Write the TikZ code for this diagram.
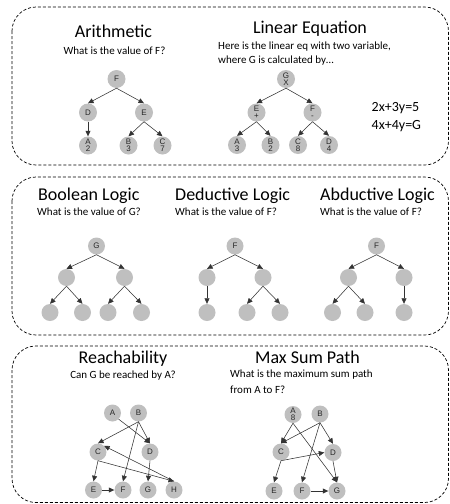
\documentclass[tikz,border=0pt]{standalone}
\usepackage{fontspec}
\setmainfont{Carlito}
\newfontfamily\arialfont{Liberation Sans}
\usetikzlibrary{arrows.meta}

\begin{document}
\begin{tikzpicture}[
        x=1pt, y=-1pt,
        panel/.style={draw, dash pattern=on 3pt off 2pt, line width=0.7pt, rounded corners=24pt},
        title/.style={font=\fontsize{18}{20}\selectfont, inner sep=0pt},
        question/.style={font=\fontsize{11}{14}\selectfont, inner sep=0pt, align=left},
        vertex/.style={circle, fill=black!25, inner sep=0pt, minimum size=18pt, text=black!85, align=center, font=\arialfont\fontsize{8}{7.3}\selectfont},
        small/.style={vertex, minimum size=17pt},
        arrow/.style={-{Triangle[length=5.5pt,width=5pt]}, draw=black!80, line width=0.55pt}
      ]

    \useasboundingbox (0,0) rectangle (450,504);

    % panels
    \draw[panel] (12,7) rectangle (448.5,165);
    \draw[panel] (12,177) rectangle (448.5,335);
    \draw[panel] (12,346) rectangle (448.5,502.5);

    % Arithmetic
    \node (arithtitle) [title, anchor=base] at (113.5,37.5) {Arithmetic};
    \node (arithq) [question, anchor=base] at (114.5,54.5) {What is the value of F?};
    \node (arithF) [vertex] at (116.5,79) {F};
    \node (arithD) [vertex] at (88,112.5) {D};
    \node (arithE) [vertex] at (144,112.5) {E};
    \node (arithA) [vertex] at (88,145.5) {A\\2};
    \node (arithB) [vertex] at (128.5,145.5) {B\\3};
    \node (arithC) [vertex] at (162.5,145.5) {C\\7};

    \draw[arrow] (arithF.south) -- (arithD.north);
    \draw[arrow] (arithF.south) -- (arithE.north);
    \draw[arrow] (arithD.south) -- (arithA.north);
    \draw[arrow] (arithE.south) -- (arithB.north);
    \draw[arrow] (arithE.south) -- (arithC.north);

    % Linear Equation
    \node (lineqtitle) [title, anchor=base] at (310,33.5) {Linear Equation};
    \node (lineqq) [question, anchor=base west] at (218,63.3) {Here is the linear eq with two variable,\\where G is calculated by\dots};
    \node (lineqG) [vertex] at (286,79) {G\\X};
    \node (lineqE) [vertex] at (256.5,112.5) {E\\+};
    \node (lineqF) [vertex] at (312.5,112.5) {F\\-};
    \node (lineqA) [vertex] at (237,145) {A\\3};
    \node (lineqB) [vertex] at (270.5,145) {B\\2};
    \node (lineqC) [vertex] at (298,145) {C\\8};
    \node (lineqD) [vertex] at (329,145) {D\\4};
    \node (lineqeqs) [font=\fontsize{14}{18.3}\selectfont, inner sep=0pt, align=left, anchor=base west] at (371.5,129.3) {2x+3y=5\\4x+4y=G};

    \draw[arrow] (lineqG.south) -- (lineqE.north);
    \draw[arrow] (lineqG.south) -- (lineqF.north);
    \draw[arrow] (lineqE.south) -- (lineqA.north);
    \draw[arrow] (lineqE.south) -- (lineqB.north);
    \draw[arrow] (lineqF.south) -- (lineqC.north);
    \draw[arrow] (lineqF.south) -- (lineqD.north);

    % Boolean Logic
    \node (booltitle) [title, anchor=base west] at (38,200.5) {Boolean Logic};
    \node (boolq) [question, anchor=base west] at (37,215.5) {What is the value of G?};
    \node (boolG) [small] at (96.5,246) {G};
    \node (boolL) [small] at (66.5,277.5) {};
    \node (boolR) [small] at (124.5,277.5) {};
    \node (boolLL) [small] at (50,312.5) {};
    \node (boolLR) [small] at (82.5,312.5) {};
    \node (boolRL) [small] at (108,312.5) {};
    \node (boolRR) [small] at (141.5,312.5) {};

    \draw[arrow] (boolG.south) -- (boolL.north);
    \draw[arrow] (boolG.south) -- (boolR.north);
    \draw[arrow] (boolL.south) -- (boolLL.north);
    \draw[arrow] (boolL.south) -- (boolLR.north);
    \draw[arrow] (boolR.south) -- (boolRL.north);
    \draw[arrow] (boolR.south) -- (boolRR.north);

    % Deductive Logic
    \node (dedtitle) [title, anchor=base west] at (175,200.5) {Deductive Logic};
    \node (dedq) [question, anchor=base west] at (175,215.5) {What is the value of F?};
    \node (dedF) [small] at (235,246) {F};
    \node (dedL) [small] at (207,277.5) {};
    \node (dedR) [small] at (263,277.5) {};
    \node (dedLL) [small] at (207,312.5) {};
    \node (dedRL) [small] at (247,312.5) {};
    \node (dedRR) [small] at (280,312.5) {};

    \draw[arrow] (dedF.south) -- (dedL.north);
    \draw[arrow] (dedF.south) -- (dedR.north);
    \draw[arrow] (dedL.south) -- (dedLL.north);
    \draw[arrow] (dedR.south) -- (dedRL.north);
    \draw[arrow] (dedR.south) -- (dedRR.north);

    % Abductive Logic
    \node (abdtitle) [title, anchor=base west] at (320,200) {Abductive Logic};
    \node (abdq) [question, anchor=base west] at (320,215.5) {What is the value of F?};
    \node (abdF) [small] at (376.5,246) {F};
    \node (abdL) [small] at (348.5,277.5) {};
    \node (abdR) [small] at (404,277.5) {};
    \node (abdLL) [small] at (332.5,312.5) {};
    \node (abdLR) [small] at (365,312.5) {};
    \node (abdRR) [small] at (404,312.5) {};

    \draw[arrow] (abdF.south) -- (abdL.north);
    \draw[arrow] (abdF.south) -- (abdR.north);
    \draw[arrow] (abdL.south) -- (abdLL.north);
    \draw[arrow] (abdL.south) -- (abdLR.north);
    \draw[arrow] (abdR.south) -- (abdRR.north);

    % Reachability
    \node (reachtitle) [title, anchor=base] at (123,363.5) {Reachability};
    \node (reachq) [question, anchor=base] at (123,378.5) {Can G be reached by A?};
    \node (reachA) [small] at (112.5,413) {A};
    \node (reachB) [small] at (138.5,413) {B};
    \node (reachC) [small] at (98,452) {C};
    \node (reachD) [small] at (150,452) {D};
    \node (reachE) [small] at (93.5,490) {E};
    \node (reachF) [small] at (123,490) {F};
    \node (reachG) [small] at (148,490) {G};
    \node (reachH) [small] at (174,490) {H};

    \draw[arrow] (reachA.south east) -- (reachD.north);
    \draw[arrow] (reachB.south) -- (reachC.north);
    \draw[arrow] (reachB.south) -- (reachD.north);
    \draw[arrow] (reachB.south) -- (reachF.north);
    \draw[arrow] (reachH.north) -- (reachC.north east);
    \draw[arrow] (reachC.south) -- (reachH.north);
    \draw[arrow] (reachC.south) -- (reachE.north);
    \draw[arrow] (reachD.south) -- (reachG.north);
    \draw[arrow] (reachE) -- (reachF);

    % Max Sum Path
    \node (maxtitle) [title, anchor=base] at (307.5,363.5) {Max Sum Path};
    \node (maxq) [question, anchor=base west] at (230,393.3) {What is the maximum sum path\\[1.6pt]from A to F?};
    \node (maxA) [small] at (293,414.5) {A\\8};
    \node (maxB) [small] at (320,414) {B};
    \node (maxC) [small] at (281,452) {C};
    \node (maxD) [small] at (333,452.5) {D};
    \node (maxE) [small] at (274,491) {E};
    \node (maxF) [small] at (302,491) {F};
    \node (maxG) [small] at (337,491) {G};

    \draw[arrow] (maxA.south) -- (maxC.north);
    \draw[arrow] (maxA.south) -- (maxG.north);
    \draw[arrow] (maxB.south) -- (maxC.north);
    \draw[arrow] (maxB.south) -- (maxD.north);
    \draw[arrow] (maxB.south) -- (maxF.north);
    \draw[arrow] (maxC.south) -- (maxD.west);
    \draw[arrow] (maxC.south) -- (maxE.north);
    \draw[arrow] (maxD.south) -- (maxG.north);
    \draw[arrow] (maxF) -- (maxG);

\end{tikzpicture}
\end{document}
